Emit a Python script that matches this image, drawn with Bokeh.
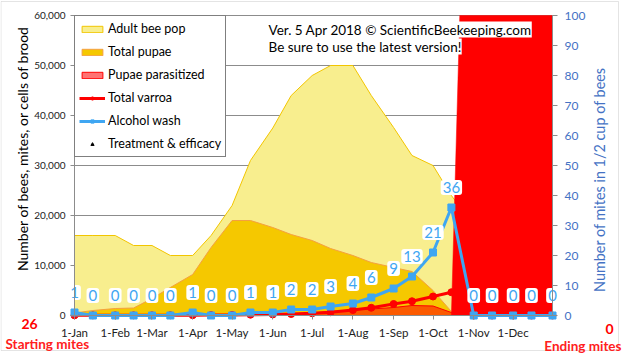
import numpy as np
import pandas as pd
from bokeh.plotting import figure
from bokeh.models import (Range1d, LinearAxis, FixedTicker, NumeralTickFormatter,
                          Legend, LegendItem, Label, ColumnDataSource, BoxAnnotation)
from bokeh.core.properties import value
from bokeh.embed import file_html
from bokeh.resources import INLINE

# ---------------- data ----------------
dates = ["2018-01-01", "2018-01-15", "2018-02-01", "2018-02-15", "2018-03-01",
         "2018-03-15", "2018-04-01", "2018-04-15", "2018-05-01", "2018-05-15",
         "2018-06-01", "2018-06-15", "2018-07-01", "2018-07-15", "2018-08-01",
         "2018-08-15", "2018-09-01", "2018-09-15", "2018-10-01", "2018-10-15",
         "2018-11-01", "2018-11-15", "2018-12-01", "2018-12-15", "2018-12-31"]

adult_bee_pop = [16000, 16000, 16000, 14000, 14000, 12000, 12000, 16000, 22000, 31000,
                 37500, 44000, 48000, 50000, 50000, 44000, 37600, 32000, 30000, 24000,
                 18000, 16000, 15000, 14000, 14000]
total_pupae = [500, 1000, 1400, 1500, 3400, 5600, 8200, 13600, 19000, 19000,
               17600, 16200, 15000, 13400, 12000, 10600, 9600, 8800, 5000, 800,
               0, 0, 0, 0, 0]
pupae_parasitized = [0, 0, 0, 0, 0, 10, 20, 30, 50, 80,
                     120, 250, 500, 800, 1100, 1300, 1600, 2000, 1900, 600,
                     0, 0, 0, 0, 0]
off_scale_zone = [0, 0, 0, 0, 0, 0, 0, 0, 0, 0,
                  0, 0, 0, 0, 0, 0, 0, 0, 0, 0,
                  160000, 160000, 160000, 160000, 160000]
total_varroa = [26, 30, 35, 40, 45, 55, 70, 90, 120, 160,
                220, 300, 450, 660, 1100, 1550, 2300, 2850, 3800, 4650,
                0, 0, 0, 0, 0]
alcohol_wash = [1, 0, 0, 0, 0, 0, 1, 0, 0, 1,
                1, 2, 2, 3, 4, 6, 9, 13, 21, 36,
                0, 0, 0, 0, 0]

tick_dates = ["2018-01-01", "2018-02-01", "2018-03-01", "2018-04-01", "2018-05-01",
              "2018-06-01", "2018-07-01", "2018-08-01", "2018-09-01", "2018-10-01",
              "2018-11-01", "2018-12-01"]
tick_labels = ["1-Jan", "1-Feb", "1-Mar", "1-Apr", "1-May", "1-Jun",
               "1-Jul", "1-Aug", "1-Sep", "1-Oct", "1-Nov", "1-Dec"]
left_ticks = [0, 10000, 20000, 30000, 40000, 50000, 60000]
right_ticks = [0, 10, 20, 30, 40, 50, 60, 70, 80, 90, 100]
left_max = 60000
right_max = 100
starting_mites = "26"
ending_mites = "0"

# ---------------- layout constants (pixels) ----------------
W, H = 623, 357
PL, PR, PT, PB = 74, 552, 15, 315   # plot-area edges

origin = pd.Timestamp("2018-01-01")
x = np.array([(pd.Timestamp(d) - origin).days for d in dates], dtype=float)
tx = [int((pd.Timestamp(d) - origin).days) for d in tick_dates]
x_end = float(x[-1])

kx = x_end / (PR - PL)          # days per pixel
ky = left_max / (PB - PT)       # units per pixel (left)
kr = right_max / (PB - PT)      # units per pixel (right)
x_range = Range1d(-PL * kx, x_end + (W - PR) * kx)
y_range = Range1d(-(H - PB) * ky, left_max + PT * ky)
r_range = Range1d(-(H - PB) * kr, right_max + PT * kr)


def clip_top(xv, yv, top):
    ox, oy = [], []
    for i in range(len(xv)):
        if i > 0:
            y0, y1 = yv[i - 1], yv[i]
            if (y0 - top) * (y1 - top) < 0:
                t = (top - y0) / (y1 - y0)
                ox.append(xv[i - 1] + t * (xv[i] - xv[i - 1]))
                oy.append(top)
        ox.append(xv[i])
        oy.append(min(yv[i], top))
    return np.array(ox), np.array(oy)


def poly(vals):
    cx, cy = clip_top(x, np.array(vals, dtype=float), left_max)
    xs = np.concatenate([cx, cx[::-1]])
    ys = np.concatenate([cy, np.zeros_like(cy)])
    return xs, ys


FONT = "Lato"
BLUE_AX = "#4472C4"
WASH = "#3FA6F2"
AXC = "#8C8C8C"

p = figure(width=W, height=H, output_backend="svg", toolbar_location=None,
           x_range=x_range, y_range=y_range)
p.min_border = 0
p.min_border_left = 0
p.min_border_right = 0
p.min_border_top = 0
p.min_border_bottom = 0
p.title.visible = False
p.outline_line_color = None
p.background_fill_color = "white"
p.border_fill_color = "white"
p.extra_y_ranges = {"mites": r_range}
p.xgrid.visible = False
p.ygrid.visible = False

# left axis
ya = p.yaxis[0]
ya.fixed_location = 0
ya.bounds = (0, left_max)
ya.ticker = FixedTicker(ticks=left_ticks)
ya.formatter = NumeralTickFormatter(format="0,0")
ya.major_label_text_font = FONT
ya.major_label_text_font_size = "10px"
ya.major_label_text_color = "#222222"
ya.major_label_standoff = 5
ya.major_tick_in = 0
ya.major_tick_out = 4
ya.minor_tick_line_color = None
ya.axis_line_color = AXC
ya.major_tick_line_color = AXC

# x axis
xa = p.xaxis[0]
xa.fixed_location = 0
xa.bounds = (0, x_end)
xa.ticker = FixedTicker(ticks=tx)
xa.major_label_overrides = {t: l for t, l in zip(tx, tick_labels)}
xa.major_label_text_font = FONT
xa.major_label_text_font_size = "11.5px"
xa.major_label_text_color = "#222222"
xa.major_label_standoff = 6
xa.major_tick_in = 0
xa.major_tick_out = 4
xa.minor_tick_line_color = None
xa.axis_line_color = AXC
xa.major_tick_line_color = AXC

# right axis
ra = LinearAxis(y_range_name="mites", ticker=FixedTicker(ticks=right_ticks))
ra.fixed_location = x_end
ra.bounds = (0, right_max)
ra.major_label_text_font = FONT
ra.major_label_text_font_size = "12px"
ra.major_label_text_color = BLUE_AX
ra.major_label_standoff = 7
ra.major_tick_in = 0
ra.major_tick_out = 5
ra.minor_tick_line_color = None
ra.axis_line_color = AXC
ra.major_tick_line_color = AXC
p.add_layout(ra, "right")

# chart border
p.add_layout(BoxAnnotation(left=x_range.start + 0.5 * kx, right=x_range.start + 618 * kx,
                           bottom=y_range.start + (H - 350) * ky, top=y_range.end - 1 * ky,
                           fill_color=None, line_color="#A6A6A6", line_width=1,
                           level="underlay"))

# gridlines (only across the plot area)
p.segment(x0=[0] * len(left_ticks), x1=[x_end] * len(left_ticks),
          y0=left_ticks, y1=left_ticks, line_color=AXC, line_width=1)

# ---------------- areas ----------------
xs, ys = poly(adult_bee_pop)
r_adult = p.patch(xs, ys, fill_color="#F8EE8E", line_color="#F2C500", line_width=1)
xs, ys = poly(total_pupae)
r_pupae = p.patch(xs, ys, fill_color="#F5C800", line_color="#F4A040", line_width=1)
xs, ys = poly(pupae_parasitized)
r_para = p.patch(xs, ys, fill_color="#FF0000", fill_alpha=0.55, line_color="#FF0000", line_width=1)
xs, ys = poly(off_scale_zone)
p.patch(xs, ys, fill_color="#FF0000", line_color="#FF0000", line_width=0.5)

# ---------------- lines ----------------
src = ColumnDataSource(dict(x=x, varroa=total_varroa, wash=alcohol_wash,
                            lbl=[str(v) for v in alcohol_wash]))
r_var_l = p.line("x", "varroa", source=src, line_color="#FF0000", line_width=3)
r_var_m = p.scatter("x", "varroa", source=src, marker="circle", size=7,
                    fill_color="#FF0000", line_color="#FF0000")
r_wash_l = p.line("x", "wash", source=src, y_range_name="mites", line_color=WASH, line_width=3)
r_wash_m = p.scatter("x", "wash", source=src, y_range_name="mites", marker="square", size=7,
                     fill_color=WASH, line_color=WASH)
r_treat = p.scatter(x=[np.nan], y=[np.nan], marker="triangle", size=10,
                    fill_color="black", line_color="black")

p.text("x", "wash", text="lbl", source=src, y_range_name="mites",
       text_align="center", text_baseline="middle", y_offset=-20,
       text_color=WASH, text_font=value(FONT), text_font_size="15px",
       background_fill_color="white", padding=2, border_radius=3)

# ---------------- legend ----------------
legend = Legend(items=[
    LegendItem(label="Adult bee pop", renderers=[r_adult]),
    LegendItem(label="Total pupae", renderers=[r_pupae]),
    LegendItem(label="Pupae parasitized", renderers=[r_para]),
    LegendItem(label="Total varroa", renderers=[r_var_l, r_var_m]),
    LegendItem(label="Alcohol wash", renderers=[r_wash_l, r_wash_m]),
    LegendItem(label="Treatment & efficacy", renderers=[r_treat]),
], location=(PL, H - 157))
legend.label_text_font = FONT
legend.label_text_font_size = "12.5px"
legend.label_text_color = "black"
legend.glyph_width = 26
legend.glyph_height = 8
legend.label_height = 17
legend.label_standoff = 3
legend.spacing = 6
legend.padding = 4
legend.margin = 0
legend.border_line_color = "black"
legend.border_line_width = 1
legend.background_fill_color = "white"
legend.background_fill_alpha = 1
p.add_layout(legend, "center")


# ---------------- texts ----------------
def lab(txt, px, py, size, color="black", bold=False, align="left", bg=None, angle=0.0):
    l = Label(x=px, y=H - py, x_units="screen", y_units="screen", text=txt,
              text_font=FONT, text_font_size=size, text_color=color,
              text_font_style="bold" if bold else "normal",
              text_align=align, text_baseline="middle", angle=angle)
    if bg:
        l.background_fill_color = bg
    p.add_layout(l)


# axis titles
lab("Number of bees, mites, or cells of brood", 22, 148, "14px", align="center",
    angle=np.pi / 2)
lab("Number of mites in 1/2 cup of bees", 599, 179, "14.4px", color=BLUE_AX,
    align="center", angle=np.pi / 2)

lab("Ver. 5 Apr 2018 \u00a9 ScientificBeekeeping.com", 268, 29, "13.5px", bg="white")
lab("Be sure to use the latest version!", 268, 46, "13.5px", bg="white")
lab(starting_mites, 29, 323, "14px", color="#FF0000", bold=True, align="center")
lab("Starting mites", 5, 343, "13.5px", color="#FF2020", bold=True)
lab(ending_mites, 609, 328, "14px", color="#FF0000", bold=True, align="center")
lab("Ending mites", 621, 345, "13.5px", color="#FF2020", bold=True, align="right")

open("out.html", "w").write(file_html(p, INLINE))
